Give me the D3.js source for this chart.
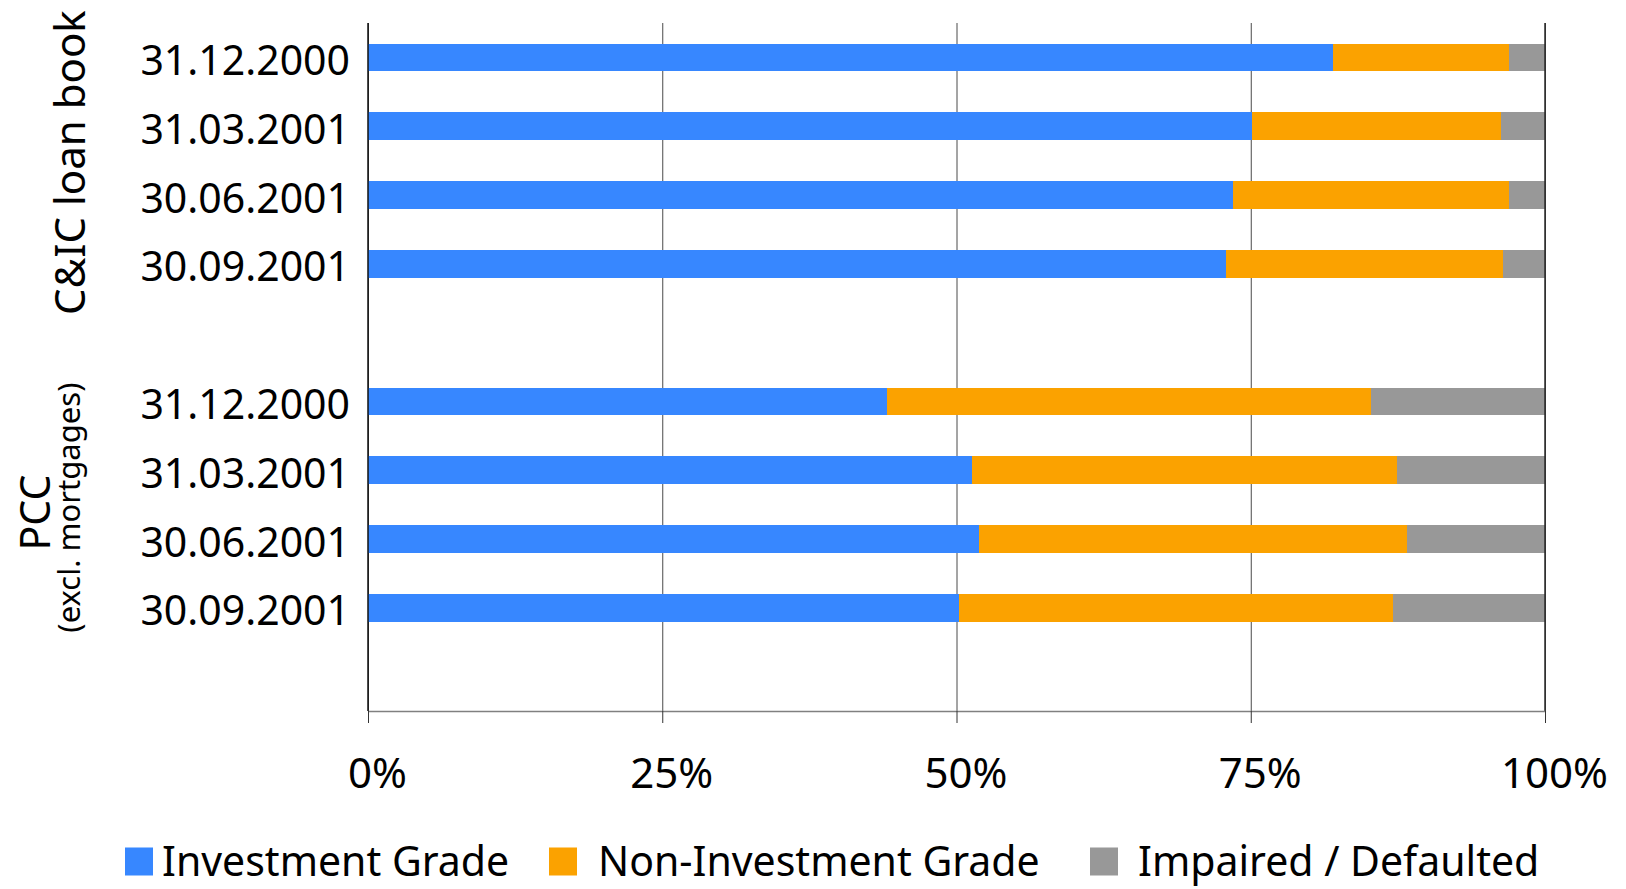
<!DOCTYPE html>
<html>
<head>
<meta charset="utf-8">
<script src="https://cdn.jsdelivr.net/npm/d3@7"></script>
<style>
  html, body { margin: 0; padding: 0; background: #fff; }
  svg { display: block; font-family: "Noto Sans", "Open Sans", sans-serif; }
</style>
</head>
<body>
<svg id="chart" width="1626" height="889"></svg>
<script>
// Rating mix of the loan books, share of each rating class in percent
const dates = ["31.12.2000", "31.03.2001", "30.06.2001", "30.09.2001"];
const groups = ["C&IC loan book", "PCC"];
const seriesNames = ["Investment Grade", "Non-Investment Grade", "Impaired / Defaulted"];

// C&IC loan book rows first, then PCC rows (same date order)
const investmentGrade    = [82.0, 75.1, 73.5, 72.9, 44.1, 51.3, 51.9, 50.2];
const nonInvestmentGrade = [14.9, 21.2, 23.4, 23.5, 41.1, 36.1, 36.4, 36.9];
const impairedDefaulted  = [ 3.1,  3.7,  3.1,  3.6, 14.8, 12.6, 11.7, 12.9];

const xTicks = [0, 25, 50, 75, 100];
const colors = ["#3787ff", "#fba200", "#989898"];

// ---- layout
const svg = d3.select("#chart");
const plotLeft = 368, plotRight = 1545, plotTop = 23, plotBottom = 711;

// rows: each group's four dates followed by one empty slot
const rows = [];
groups.forEach((g, gi) => {
  dates.forEach((d, di) => rows.push({ key: g + "|" + d, group: g, date: d, i: gi * dates.length + di }));
  rows.push({ key: "gap" + gi, gap: true });
});
const dataRows = rows.filter(r => !r.gap).map(r => ({
  key: r.key, date: r.date, group: r.group,
  ig: investmentGrade[r.i], nig: nonInvestmentGrade[r.i], imp: impairedDefaulted[r.i]
}));

const x = d3.scaleLinear().domain([0, 100]).range([plotLeft, plotRight]);
const y = d3.scaleBand().domain(rows.map(r => r.key)).range([plotTop, plotBottom])
  .paddingInner(0.6).paddingOuter(0.3);

// ---- grid lines
const grid = svg.append("g").attr("transform", `translate(0,${plotBottom})`)
  .call(d3.axisBottom(x).tickValues(xTicks).tickSize(-(plotBottom - plotTop)).tickFormat(""));
grid.select(".domain").remove();
grid.selectAll(".tick line").attr("stroke", "#4a4a4a").attr("stroke-width", 1);

// ---- stacked bars
const stack = d3.stack().keys(["ig", "nig", "imp"]);
const layers = stack(dataRows);
svg.append("g").selectAll("g").data(layers).join("g")
  .attr("fill", (d, i) => colors[i])
  .selectAll("rect").data(d => d).join("rect")
  .attr("x", d => x(d[0]))
  .attr("y", d => y(d.data.key))
  .attr("width", d => x(d[1]) - x(d[0]))
  .attr("height", y.bandwidth())
  .attr("shape-rendering", "crispEdges");

// ---- 100% border line drawn over the bar ends
svg.append("line").attr("x1", x(100)).attr("x2", x(100)).attr("y1", plotTop).attr("y2", plotBottom)
  .attr("stroke", "#2a2a2a").attr("stroke-width", 1.5);

// ---- left axis line
svg.append("line").attr("x1", x(0)).attr("x2", x(0)).attr("y1", plotTop).attr("y2", plotBottom)
  .attr("stroke", "#111").attr("stroke-width", 1.5);

// ---- bottom axis
const xAxis = svg.append("g").attr("transform", `translate(0,${plotBottom})`)
  .call(d3.axisBottom(x).tickValues(xTicks).tickSize(12).tickSizeOuter(0).tickFormat(d => d + "%"));
xAxis.select(".domain").attr("stroke", "#808080").attr("stroke-width", 1.5);
xAxis.selectAll(".tick line").attr("stroke", "#333").attr("stroke-width", 1);
xAxis.selectAll(".tick text")
  .attr("font-size", 42).attr("font-family", "Noto Sans")
  .attr("fill", "#000").attr("y", 77).attr("dy", 0).attr("dx", 9);

// ---- date labels
svg.append("g").selectAll("text").data(dataRows).join("text")
  .attr("x", 350)
  .attr("y", d => y(d.key) + y.bandwidth() / 2)
  .attr("dy", 17.5)
  .attr("text-anchor", "end")
  .attr("font-size", 41)
  .attr("fill", "#000")
  .text(d => d.date);

// ---- group labels (rotated)
function groupCenter(g) {
  const keys = dates.map(d => g + "|" + d);
  return (y(keys[0]) + y(keys[keys.length - 1]) + y.bandwidth()) / 2;
}
svg.append("text")
  .attr("transform", `translate(85,${groupCenter(groups[0]) + 2}) rotate(-90)`)
  .attr("text-anchor", "middle").attr("font-size", 42).attr("fill", "#000")
  .text(groups[0]);
svg.append("text")
  .attr("transform", `translate(50,${groupCenter(groups[1]) + 8}) rotate(-90)`)
  .attr("text-anchor", "middle").attr("font-size", 41).attr("fill", "#000")
  .text(groups[1]);
svg.append("text")
  .attr("transform", `translate(80,${groupCenter(groups[1]) + 3}) rotate(-90)`)
  .attr("text-anchor", "middle").attr("font-size", 31).attr("fill", "#000")
  .text("(excl. mortgages)");

// ---- legend
const legendX = [125, 549, 1090];
const legendGap = [9, 21, 20];
const legend = svg.append("g").attr("transform", "translate(0,847.5)");
const items = legend.selectAll("g").data(seriesNames).join("g")
  .attr("transform", (d, i) => `translate(${legendX[i]},0)`);
items.append("rect").attr("width", 28).attr("height", 28).attr("fill", (d, i) => colors[i]);
items.append("text")
  .attr("x", (d, i) => 28 + legendGap[i])
  .attr("y", 28.5)
  .attr("font-size", 41).attr("fill", "#000")
  .text(d => d);
</script>
</body>
</html>
